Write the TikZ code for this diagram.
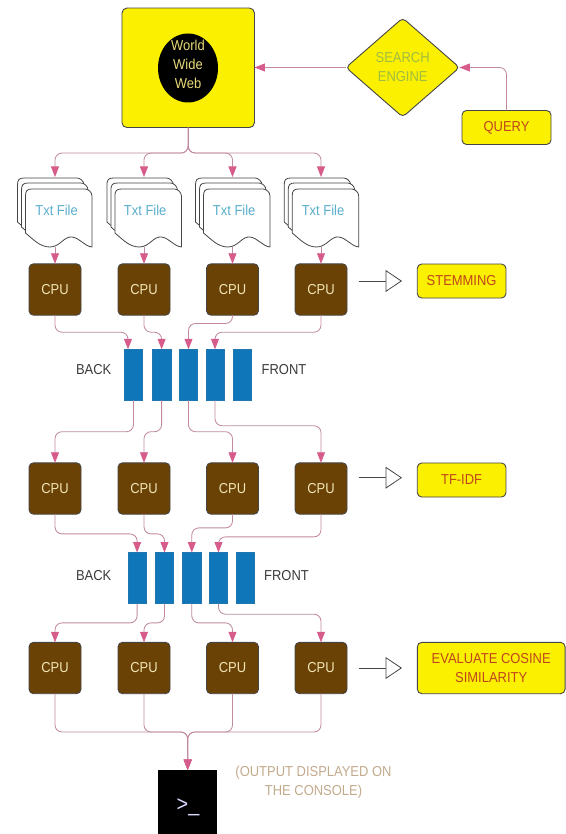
\documentclass[tikz,border=0pt]{standalone}
\usepackage{fontspec}
\setmainfont[FakeStretch=0.9]{Liberation Sans}
\usetikzlibrary{arrows.meta,shapes.geometric}
\definecolor{yel}{HTML}{FAF000}
\definecolor{brn}{HTML}{6B4206}
\definecolor{edgegray}{HTML}{454545}
\definecolor{lnk}{HTML}{C08AA0}
\definecolor{tipc}{HTML}{D65C8C}
\definecolor{qblue}{HTML}{0F76B9}
\definecolor{redtxt}{HTML}{C0451E}
\definecolor{cputxt}{HTML}{F2E6B4}
\definecolor{webtxt}{HTML}{E6DA78}
\definecolor{engtxt}{HTML}{A0BC42}
\definecolor{doctxt}{HTML}{58AECB}
\definecolor{tantxt}{HTML}{C2AA8C}
\definecolor{lbltxt}{HTML}{3A3A3A}
\tikzset{
  x=1pt,y=-1pt,
  every node/.style={inner sep=0pt,outer sep=0pt,align=center,font=\fontsize{14.4}{19}\selectfont},
  yelbox/.style={draw=edgegray,line width=.9pt,fill=yel,rounded corners=4.5pt,text=redtxt},
  cpu/.style={draw=edgegray,line width=.9pt,fill=brn,rounded corners=4.5pt,text=cputxt,minimum width=52pt,minimum height=51.4pt},
  qslot/.style={draw=qblue!85!gray,line width=.5pt,fill=qblue,minimum width=18.3pt,minimum height=51pt},
  sheet/.style={draw=edgegray,line width=.8pt,fill=white,line join=round},
  conn/.style={draw=lnk,line width=.85pt,rounded corners=7pt,-{Triangle[length=10.5pt,width=8pt,color=tipc]}},
  openarrow/.style={draw=edgegray,line width=.8pt,-{Triangle[open,fill=white,length=16.5pt,width=22pt]}},
  qlabel/.style={text=lbltxt},
}
\newcommand{\docsheet}[2]{%
  \path[sheet,shift={(#1,#2)}] (25.5,233) -- (25.5,196) .. controls (25.5,191) and (27,189) .. (32,189)
    -- (85,189) .. controls (88,189) and (92,192) .. (92,196) -- (92,247)
    .. controls (84,246) and (80,238) .. (72,237) .. controls (64,236) and (60,247) .. (50,247)
    .. controls (40,247) and (34,240) .. (25.5,233) -- cycle;}
\newcommand{\docstack}[1]{%
  \begin{scope}[shift={(#1,0)}]
    \docsheet{-8}{-11}\docsheet{-4}{-6}\docsheet{0}{0}
  \end{scope}}
\begin{document}
\begin{tikzpicture}
\useasboundingbox (0,0) rectangle (565,834);
% top
\node[draw=edgegray,line width=.9pt,fill=yel,rounded corners=5pt,minimum width=132.5pt,minimum height=119.5pt] (www) at (188.2,67.8) {};
\node[ellipse,fill=black,minimum width=60pt,minimum height=69pt] (web) at (188,68) {};
\node[text=webtxt] (webt) at (188,64.7) {World\\Wide\\Web};
\node[diamond,draw=edgegray,line width=.9pt,fill=yel,rounded corners=4pt,text=engtxt,minimum width=113.5pt,minimum height=99pt,aspect=1.146] (eng) at (402.7,67.5) {SEARCH\\ENGINE};
\node[yelbox,minimum width=89pt,minimum height=34pt] (query) at (506.5,127.5) {QUERY};
\draw[conn] (eng.west) -- (www.east |- eng.west);
\draw[conn] (query.north) |- (eng.east);
% documents
\docstack{0}\docstack{89.4}\docstack{178}\docstack{266.7}
\node[text=doctxt] (t1) at (56.6,210) {Txt File};
\node[text=doctxt] (t2) at (145.2,210) {Txt File};
\node[text=doctxt] (t3) at (234.2,210) {Txt File};
\node[text=doctxt] (t4) at (323,210) {Txt File};
\coordinate (d1t) at (55,177); \coordinate (d2t) at (144,177); \coordinate (d3t) at (232.5,177); \coordinate (d4t) at (321,177);
\coordinate (d1b) at (55,247); \coordinate (d2b) at (144,247); \coordinate (d3b) at (232.5,247); \coordinate (d4b) at (321,247);
\foreach \i in {1,2,3,4} \draw[conn] (www.south) -- ++(0,25.5) -| (d\i t);
% row 1
\node[cpu] (c11) at (55,289.5) {CPU};
\node[cpu] (c12) at (144,289.5) {CPU};
\node[cpu] (c13) at (232.5,289.5) {CPU};
\node[cpu] (c14) at (321,289.5) {CPU};
\foreach \i in {1,2,3,4} \draw[conn] (d\i b) -- (c1\i.north);
\coordinate (a1) at (358.6,281); \coordinate (a2) at (402,281);
\draw[openarrow] (a1) -- (a2);
\node[yelbox,minimum width=88.7pt,minimum height=34pt] (stem) at (461.6,281) {STEMMING};
% queue 1
\node[qslot] (q11) at (133.5,374.8) {};
\node[qslot] (q12) at (161.6,374.8) {};
\node[qslot] (q13) at (188.5,374.8) {};
\node[qslot] (q14) at (215,374.8) {};
\node[qslot] (q15) at (242.3,374.8) {};
\node[qlabel] (bk1) at (93.7,370) {BACK};
\node[qlabel] (fr1) at (284,370) {FRONT};
\coordinate (e11) at (128,349.3);
\draw[conn] (c11.south) -- ++(0,17) -| (e11);
\draw[conn] (c12.south) -- ++(0,17) -| (q12.north);
\draw[conn] (c13.south) -- ++(0,8.3) -| (q13.north);
\draw[conn] (c14.south) -- ++(0,17) -| (q14.north);
% row 2
\node[cpu] (c21) at (55,488.5) {CPU};
\node[cpu] (c22) at (144,488.5) {CPU};
\node[cpu] (c23) at (232.5,488.5) {CPU};
\node[cpu] (c24) at (321,488.5) {CPU};
\draw[conn] (q11.south) -- ++(0,31.4) -| (c21.north);
\draw[conn] (q12.south) -- ++(0,31.4) -| (c22.north);
\draw[conn] (q13.south) -- ++(0,31.4) -| (c23.north);
\draw[conn] (q14.south) -- ++(0,25.4) -| (c24.north);
\coordinate (b1) at (358.6,477.7); \coordinate (b2) at (402,477.7);
\draw[openarrow] (b1) -- (b2);
\node[yelbox,minimum width=88.7pt,minimum height=34pt] (tfidf) at (461.6,480) {TF-IDF};
% queue 2
\node[qslot] (q21) at (137.1,578) {};
\node[qslot] (q22) at (164.5,578) {};
\node[qslot] (q23) at (191.8,578) {};
\node[qslot] (q24) at (218.5,578) {};
\node[qslot] (q25) at (245.2,578) {};
\node[qlabel] (bk2) at (93.7,576) {BACK};
\node[qlabel] (fr2) at (286.5,576) {FRONT};
\draw[conn] (c21.south) -- ++(0,19.7) -| (q21.north);
\draw[conn] (c22.south) -- ++(0,19.7) -| (q22.north);
\draw[conn] (c23.south) -- ++(0,13.7) -| (q23.north);
\draw[conn] (c24.south) -- ++(0,22.7) -| (q24.north);
% row 3
\node[cpu] (c31) at (55,668) {CPU};
\node[cpu] (c32) at (144,668) {CPU};
\node[cpu] (c33) at (232.5,668) {CPU};
\node[cpu] (c34) at (321,668) {CPU};
\draw[conn] (q21.south) -- ++(0,19.4) -| (c31.north);
\draw[conn] (q22.south) -- ++(0,19.4) -| (c32.north);
\draw[conn] (q23.south) -- ++(0,19.4) -| (c33.north);
\draw[conn] (q24.south) -- ++(0,10.7) -| (c34.north);
\coordinate (g1) at (358.6,668); \coordinate (g2) at (402,668);
\draw[openarrow] (g1) -- (g2);
\node[yelbox,minimum width=147.7pt,minimum height=51.4pt] (cos) at (491.2,668) {EVALUATE COSINE\\SIMILARITY};
% console
\node[fill=black,minimum width=59.3pt,minimum height=64pt] (con) at (187.7,802) {};
\node[anchor=base,text=white!85!blue,font=\fontsize{22}{24}\selectfont] (prompt) at (188,811) {>\_};
\foreach \i in {1,2,3,4} \draw[conn] (c3\i.south) -- ++(0,38.3) -| (con.north);
\node[text=tantxt] (out) at (313.5,782.5) {(OUTPUT DISPLAYED ON\\THE CONSOLE)};
\end{tikzpicture}
\end{document}
